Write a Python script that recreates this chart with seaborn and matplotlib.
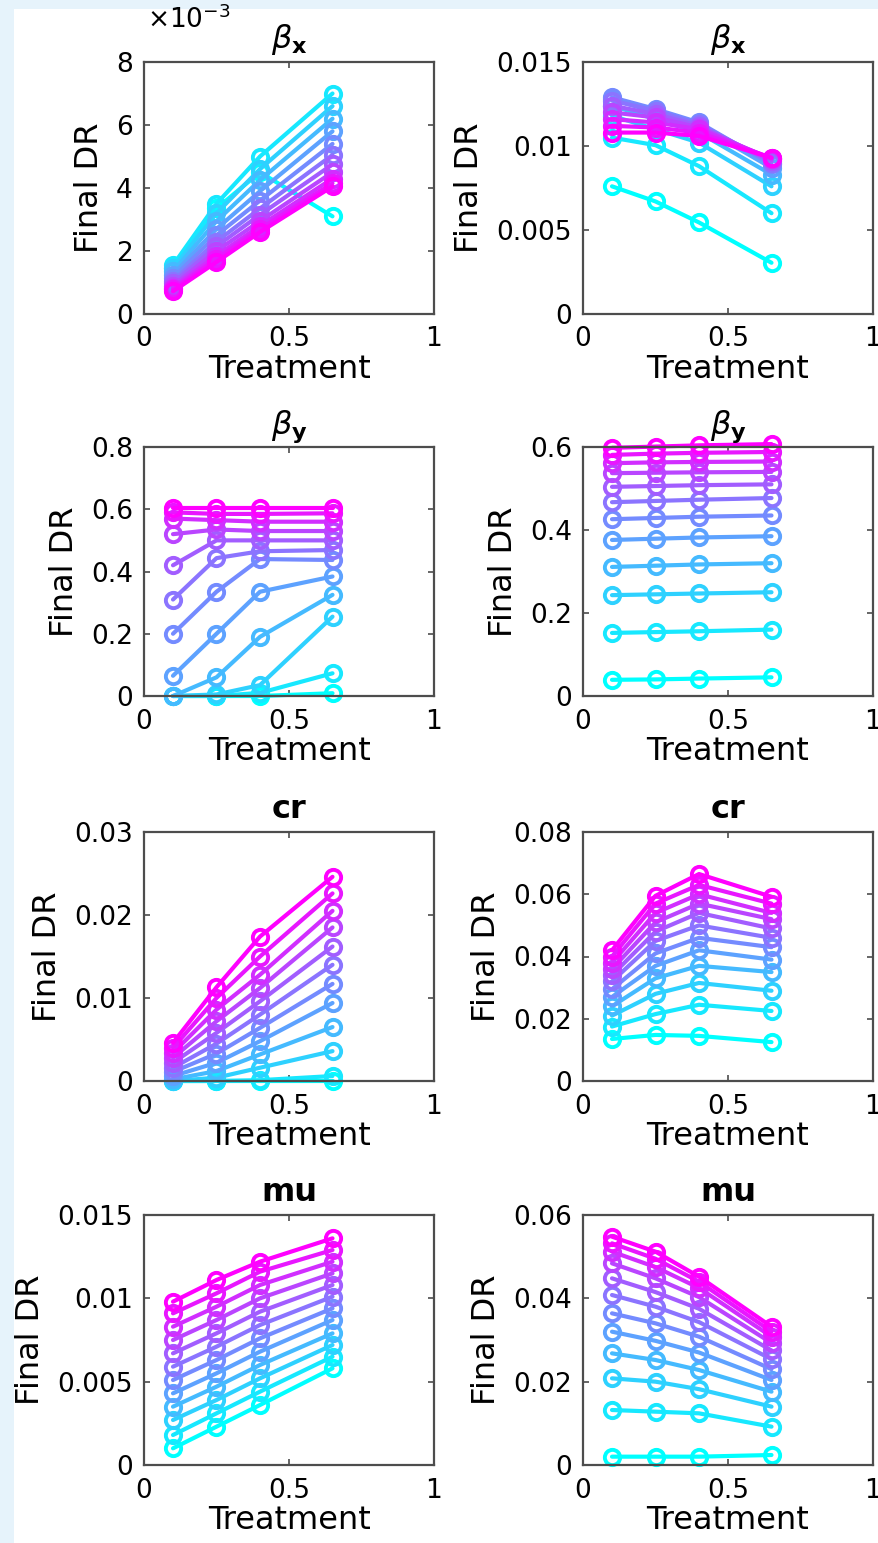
import numpy as np
import pandas as pd
import matplotlib
matplotlib.use('Agg')
import matplotlib.pyplot as plt
from matplotlib.patches import Rectangle
from matplotlib.ticker import FuncFormatter
import seaborn as sns

# treatment levels on the x axis
treatment = [0.1, 0.25, 0.4, 0.65]

# one row per run (cyan -> magenta), one value per treatment level
betax_left = [
    [0.00145, 0.00335, 0.00450, 0.00310],
    [0.00155, 0.00350, 0.00500, 0.00700],
    [0.00145, 0.00320, 0.00460, 0.00660],
    [0.00135, 0.00295, 0.00425, 0.00620],
    [0.00125, 0.00270, 0.00390, 0.00580],
    [0.00115, 0.00250, 0.00360, 0.00540],
    [0.00105, 0.00230, 0.00335, 0.00505],
    [0.00098, 0.00215, 0.00315, 0.00475],
    [0.00090, 0.00200, 0.00295, 0.00450],
    [0.00084, 0.00185, 0.00280, 0.00430],
    [0.00078, 0.00175, 0.00270, 0.00415],
    [0.00072, 0.00165, 0.00260, 0.00405],
]
betax_right = [
    [0.0076, 0.0067, 0.00545, 0.00305],
    [0.0105, 0.01005, 0.0088, 0.0060],
    [0.0118, 0.0110, 0.0102, 0.0076],
    [0.0124, 0.0116, 0.0108, 0.0083],
    [0.0128, 0.0120, 0.0112, 0.0087],
    [0.0129, 0.0122, 0.0114, 0.0089],
    [0.0127, 0.0121, 0.0113, 0.0090],
    [0.0124, 0.0119, 0.0112, 0.0091],
    [0.0120, 0.0117, 0.0111, 0.0092],
    [0.0116, 0.0114, 0.0110, 0.00925],
    [0.0112, 0.0111, 0.0108, 0.0093],
    [0.0108, 0.0108, 0.0106, 0.0093],
]
betay_left = [
    [0.0, 0.0, 0.0, 0.009],
    [0.0, 0.0, 0.010, 0.073],
    [0.0, 0.005, 0.035, 0.255],
    [0.0, 0.060, 0.190, 0.325],
    [0.065, 0.200, 0.335, 0.384],
    [0.200, 0.335, 0.440, 0.437],
    [0.310, 0.443, 0.465, 0.469],
    [0.420, 0.500, 0.500, 0.500],
    [0.520, 0.535, 0.530, 0.530],
    [0.570, 0.565, 0.560, 0.560],
    [0.590, 0.585, 0.585, 0.587],
    [0.605, 0.605, 0.605, 0.605],
]
betay_right = [
    [0.039, 0.040, 0.042, 0.045],
    [0.152, 0.154, 0.156, 0.160],
    [0.243, 0.245, 0.247, 0.250],
    [0.311, 0.314, 0.317, 0.320],
    [0.376, 0.379, 0.382, 0.385],
    [0.426, 0.429, 0.432, 0.435],
    [0.467, 0.470, 0.473, 0.477],
    [0.504, 0.506, 0.508, 0.510],
    [0.537, 0.538, 0.539, 0.540],
    [0.561, 0.563, 0.564, 0.565],
    [0.581, 0.584, 0.586, 0.588],
    [0.598, 0.601, 0.604, 0.607],
]
cr_left = [
    [0.0, 0.0, 0.0, 0.0],
    [0.0, 0.0, 0.0001, 0.0006],
    [0.0, 0.0004, 0.0016, 0.0036],
    [0.0002, 0.0012, 0.0032, 0.0065],
    [0.0006, 0.0022, 0.0048, 0.0094],
    [0.0011, 0.0033, 0.0064, 0.0117],
    [0.0016, 0.0045, 0.0080, 0.0140],
    [0.0022, 0.0058, 0.0096, 0.0162],
    [0.0028, 0.0072, 0.0112, 0.0185],
    [0.0034, 0.0086, 0.0128, 0.0205],
    [0.0040, 0.0100, 0.0150, 0.0226],
    [0.0046, 0.0113, 0.0174, 0.0246],
]
cr_right = [
    [0.0135, 0.0148, 0.0145, 0.0125],
    [0.0175, 0.0215, 0.0245, 0.0225],
    [0.0210, 0.0280, 0.0315, 0.0290],
    [0.0240, 0.0330, 0.0370, 0.0350],
    [0.0270, 0.0370, 0.0420, 0.0390],
    [0.0295, 0.0410, 0.0460, 0.0430],
    [0.0320, 0.0450, 0.0500, 0.0460],
    [0.0340, 0.0480, 0.0540, 0.0490],
    [0.0360, 0.0510, 0.0570, 0.0520],
    [0.0380, 0.0540, 0.0600, 0.0540],
    [0.0400, 0.0570, 0.0630, 0.0570],
    [0.0420, 0.0595, 0.0665, 0.0592],
]
mu_left = [
    [0.0010, 0.0023, 0.0036, 0.0058],
    [0.0018, 0.0031, 0.0044, 0.0065],
    [0.0027, 0.0039, 0.0052, 0.0072],
    [0.0035, 0.0047, 0.0060, 0.0079],
    [0.0043, 0.0055, 0.0068, 0.0087],
    [0.0051, 0.0063, 0.0076, 0.0094],
    [0.0059, 0.0071, 0.0084, 0.0101],
    [0.0067, 0.0079, 0.0092, 0.0108],
    [0.0075, 0.0087, 0.0100, 0.0115],
    [0.0083, 0.0095, 0.0108, 0.0122],
    [0.0091, 0.0103, 0.0116, 0.0129],
    [0.0098, 0.0111, 0.0122, 0.0136],
]
mu_right = [
    [0.0020, 0.0020, 0.0020, 0.0024],
    [0.0132, 0.0128, 0.0124, 0.0092],
    [0.0208, 0.0200, 0.0182, 0.0140],
    [0.0268, 0.0252, 0.0228, 0.0176],
    [0.0320, 0.0298, 0.0270, 0.0204],
    [0.0364, 0.0340, 0.0308, 0.0230],
    [0.0408, 0.0380, 0.0343, 0.0254],
    [0.0448, 0.0415, 0.0375, 0.0275],
    [0.0484, 0.0448, 0.0403, 0.0293],
    [0.0512, 0.0475, 0.0425, 0.0308],
    [0.0532, 0.0495, 0.0440, 0.0320],
    [0.0548, 0.0512, 0.0452, 0.0332],
]

titles = [r'$\beta_{\mathbf{x}}$', r'$\beta_{\mathbf{x}}$',
          r'$\beta_{\mathbf{y}}$', r'$\beta_{\mathbf{y}}$',
          'cr', 'cr', 'mu', 'mu']
panels = [betax_left, betax_right, betay_left, betay_right,
          cr_left, cr_right, mu_left, mu_right]
ymax = [0.008, 0.015, 0.8, 0.6, 0.03, 0.08, 0.015, 0.06]
yticks = [[0, 0.002, 0.004, 0.006, 0.008], [0, 0.005, 0.01, 0.015],
          [0, 0.2, 0.4, 0.6, 0.8], [0, 0.2, 0.4, 0.6],
          [0, 0.01, 0.02, 0.03], [0, 0.02, 0.04, 0.06, 0.08],
          [0, 0.005, 0.01, 0.015], [0, 0.02, 0.04, 0.06]]

sns.set_style('ticks')
plt.rcParams['font.family'] = ['DejaVu Sans']
plt.rcParams['mathtext.fontset'] = 'dejavusans'
plt.rcParams['text.color'] = 'black'
plt.rcParams['axes.labelcolor'] = 'black'

W, H = 879, 1543
fig = plt.figure(figsize=(W / 100, H / 100), dpi=100, facecolor='#e6f3fb')
fig.patches.append(Rectangle((14 / W, 0), 1, (H - 9) / H, transform=fig.transFigure,
                             facecolor='white', edgecolor='none', zorder=-10))

# axes boxes in pixels: (left, top, right, bottom)
cols = [(144, 434), (583, 873)]
rows = [(62, 314), (447, 696), (832, 1081), (1215, 1465)]
palette = sns.blend_palette(['#00ffff', '#ff00ff'], 12)
spine_col = '#4d4d4d'

for k, vals in enumerate(panels):
    r, c = divmod(k, 2)
    x0, x1 = cols[c]
    y0, y1 = rows[r]
    ax = fig.add_axes([x0 / W, 1 - y1 / H, (x1 - x0) / W, (y1 - y0) / H])
    ax.set_facecolor('white')

    df = pd.DataFrame([(i, t, v) for i, run in enumerate(vals)
                       for t, v in zip(treatment, run)],
                      columns=['run', 'Treatment', 'DR'])
    sns.lineplot(data=df, x='Treatment', y='DR', hue='run', palette=palette,
                 marker='o', markersize=11, markerfacecolor='none',
                 linewidth=3.0, errorbar=None, legend=False, ax=ax,
                 clip_on=False)
    for ln in ax.lines:
        ln.set_markeredgecolor(ln.get_color())
        ln.set_markeredgewidth(2.8)

    ax.set_xlim(0, 1)
    ax.set_xticks([0, 0.5, 1])
    ax.set_xticklabels(['0', '0.5', '1'])
    ax.set_ylim(0, ymax[k])
    ax.set_yticks(yticks[k])
    if k == 0:
        ax.yaxis.set_major_formatter(FuncFormatter(lambda v, p: f'{v * 1e3:g}'))
        ax.text(0.012, 1.135, r'$\times\mathregular{10^{-3}}$', transform=ax.transAxes,
                fontsize=19, ha='left', va='baseline', color='black')
    else:
        ax.yaxis.set_major_formatter(FuncFormatter(lambda v, p: f'{v:g}'))

    for s in ax.spines.values():
        s.set_color(spine_col)
        s.set_linewidth(1.6)
    ax.tick_params(direction='in', top=True, right=True, bottom=True, left=True,
                   length=4, width=1.2, color=spine_col, labelsize=19,
                   labelcolor='black')
    ax.tick_params(axis='x', pad=9)
    ax.tick_params(axis='y', pad=8)
    ax.set_xlabel('Treatment', fontsize=23, labelpad=1)
    ax.set_ylabel('Final DR', fontsize=23, labelpad=8)
    ax.set_title(titles[k], fontsize=23, fontweight='bold', pad=10, color='black')

fig.savefig('out.png', dpi=100, facecolor=fig.get_facecolor())
